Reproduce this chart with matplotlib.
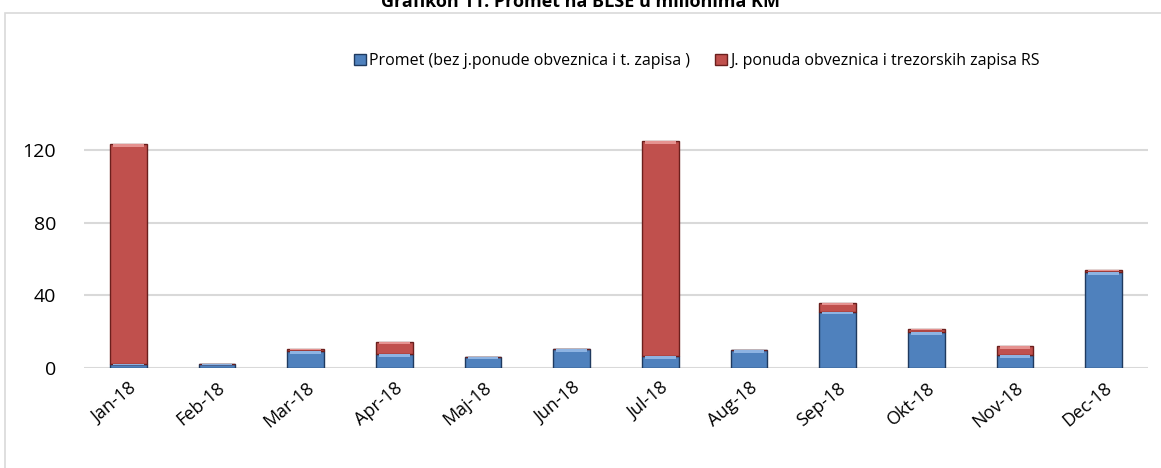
import numpy as np
import matplotlib
matplotlib.use('Agg')
from matplotlib import pyplot as plt
from matplotlib.patches import Rectangle

months = ['Jan-18', 'Feb-18', 'Mar-18', 'Apr-18', 'Maj-18', 'Jun-18',
          'Jul-18', 'Aug-18', 'Sep-18', 'Okt-18', 'Nov-18', 'Dec-18']
promet = [2.0, 2.2, 9.4, 7.6, 6.3, 10.5, 6.6, 10.0, 31.0, 19.9, 7.0, 52.7]
ponuda = [121.3, 0.0, 1.1, 7.0, 0.0, 0.0, 118.6, 0.0, 5.1, 1.5, 5.2, 1.5]
yticks = [0, 40, 80, 120]

plt.rcParams['font.family'] = ['Open Sans', 'DejaVu Sans']

fig = plt.figure(figsize=(11.61, 4.68), dpi=100)
ax = fig.add_axes([84/1161, 1-368/468, (1148-84)/1161, (368-134)/468])

x = np.arange(len(months))
w = 0.41
blue, red = '#4f81bd', '#c0504d'
ax.bar(x, promet, w, color=blue, edgecolor='#1f3a5f', linewidth=1,
       label='Promet (bez j.ponude obveznica i t. zapisa )', zorder=3)
ax.bar(x, ponuda, w, bottom=promet, color=red, edgecolor='#6b1f1d', linewidth=1,
       label='J. ponuda obveznica i trezorskih zapisa RS', zorder=3)

# light top band to hint at the bevel
top_b = [min(1.5, p * 0.3) for p in promet]
ax.bar(x, top_b, w * 0.85, bottom=np.array(promet) - np.array(top_b),
       color='#8db3e2', linewidth=0, zorder=4)
top_r = [min(1.5, r * 0.3) for r in ponuda]
ax.bar(x, top_r, w * 0.85, bottom=np.array(promet) + np.array(ponuda) - np.array(top_r),
       color='#e59290', linewidth=0, zorder=4)

ax.set_xlim(-0.5, len(months) - 0.5)
ax.set_ylim(0, 129)
ax.set_yticks(yticks)
ax.yaxis.grid(True, color='#d9d9d9', linewidth=1.5, zorder=0)
ax.set_axisbelow(True)
for s in ax.spines.values():
    s.set_visible(False)
ax.tick_params(length=0, labelsize=14)
ax.tick_params(axis='y', pad=20)
ax.set_xticks(x)
ax.set_xticklabels(months, rotation=40, ha='right', rotation_mode='anchor')
ax.tick_params(axis='x', pad=8, labelsize=13)

ax.legend(loc='center', bbox_to_anchor=(0.576, 1.31), ncol=2, frameon=False,
          fontsize=11.5, handlelength=0.7, handleheight=0.7, handletextpad=0.2,
          columnspacing=1.6)

fig.patches.append(Rectangle((5/1161, -0.05), 1.2, 1 - 13/468 + 0.05,
                             transform=fig.transFigure, fill=False,
                             edgecolor='#d9d9d9', linewidth=1.2))
fig.text(0.5, 1 + 7/468, 'Grafikon 11: Promet na BLSE u milionima KM',
         ha='center', va='top', fontsize=13, fontweight='bold')

fig.savefig('out.png', dpi=100)
